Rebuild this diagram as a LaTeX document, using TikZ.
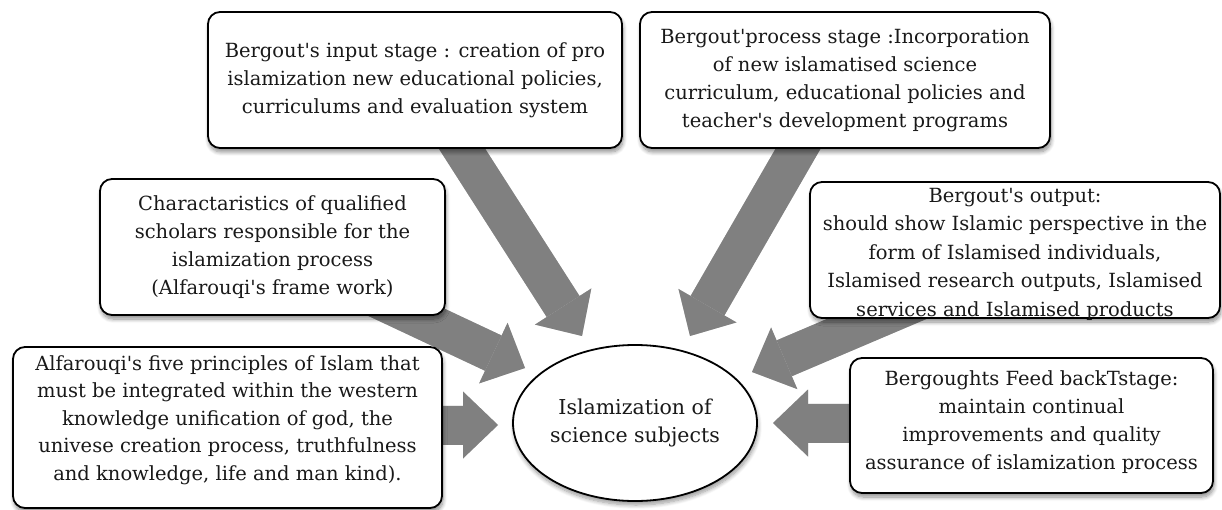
\documentclass[tikz,border=0pt]{standalone}
\usepackage{fontspec}
\setmainfont{DejaVu Serif}[Ligatures=TeXOff]
\usetikzlibrary{arrows.meta,backgrounds,shadows.blur,shapes.geometric}
\begin{document}
\begin{tikzpicture}[x=1pt,y=-1pt,
  txt/.style={font=\fontsize{19.5}{28}\selectfont, text=black!90, align=center, inner sep=0pt},
  box/.style={txt, draw=black, line width=1.8pt, rounded corners=12pt, fill=white,
    blur shadow={shadow xshift=1pt, shadow yshift=-4pt, shadow blur steps=8,
      shadow blur radius=4pt, shadow opacity=45}},
  oval/.style={txt, ellipse, draw=black, line width=1.8pt, fill=white,
    font=\fontsize{20.5}{28}\selectfont,
    blur shadow={shadow xshift=1pt, shadow yshift=-4pt, shadow blur steps=8,
      shadow blur radius=4pt, shadow opacity=40}},
  blockarrow/.style={draw=gray, line width=39pt,
    -{Triangle[width=67pt,length=35pt,line width=0pt]}},
  arrowshadow/.style={draw=black, line width=39pt,
    -{Triangle[width=67pt,length=35pt,line width=0pt]}}
]
\useasboundingbox (0,0) rectangle (1222,510);

% boxes
\node[box, minimum width=414pt, minimum height=136pt] (inbox) at (415,80)
  {Bergout's input stage : creation of pro\\islamization new educational policies,\\curriculums and evaluation system};
\node[box, minimum width=410pt, minimum height=136pt] (procbox) at (845,80)
  {Bergout'process stage :Incorporation\\of new islamatised science\\curriculum, educational policies and\\teacher's development programs};
\node[box, minimum width=345pt, minimum height=136pt] (charbox) at (272.5,247)
  {Charactaristics of qualified\\scholars responsible for the\\islamization process\\(Alfarouqi's frame work)};
\node[box, minimum width=410pt, minimum height=136pt] (outbox) at (1015,250) {};
\node[txt, font=\fontsize{19.5}{28.5}\selectfont] (outtxt) at (1015,254)
  {Bergout's output:\\should show Islamic perspective in the\\form of Islamised individuals,\\Islamised research outputs, Islamised\\services and Islamised products};
\node[box, minimum width=429pt, minimum height=161pt] (princbox) at (227.5,427.5) {};
\node[txt, font=\fontsize{19.5}{27.5}\selectfont] (princtxt) at (227.5,420)
  {Alfarouqi's five principles of Islam that\\must be integrated within the western\\knowledge unification of god, the\\univese creation process, truthfulness\\and knowledge, life and man kind).};
\node[box, minimum width=363pt, minimum height=135pt] (feedbox) at (1031.5,425.5) {};
\node[txt] (feedtxt) at (1031.5,422.5)
  {Bergoughts Feed backTstage:\\maintain continual\\improvements and quality\\assurance of islamization process};
\node[oval, minimum width=244pt, minimum height=156pt] (center) at (635,423)
  {Islamization of\\science subjects};

% arrow end points
\coordinate (s1) at (450,130);  \coordinate (t1) at (582,336);
\coordinate (s2) at (810,128);  \coordinate (t2) at (690,336);
\coordinate (s3) at (344,283);  \coordinate (t3) at (525,368);
\coordinate (s4) at (420,425);  \coordinate (t4) at (498,425);
\coordinate (s5) at (870,423);  \coordinate (t5) at (773,423);
\coordinate (s6) at (940,292);  \coordinate (t6) at (752,372);

\begin{scope}[on background layer]
  \begin{scope}[transparency group, opacity=0.22, xshift=1pt, yshift=-4pt]
    \draw[arrowshadow] (s1) -- (t1);
    \draw[arrowshadow] (s2) -- (t2);
    \draw[arrowshadow] (s3) -- (t3);
    \draw[arrowshadow] (s4) -- (t4);
    \draw[arrowshadow] (s5) -- (t5);
    \draw[arrowshadow] (s6) -- (t6);
  \end{scope}
  \draw[blockarrow] (s1) -- (t1);
  \draw[blockarrow] (s2) -- (t2);
  \draw[blockarrow] (s3) -- (t3);
  \draw[blockarrow] (s4) -- (t4);
  \draw[blockarrow] (s5) -- (t5);
  \draw[blockarrow] (s6) -- (t6);
\end{scope}
\end{tikzpicture}
\end{document}
